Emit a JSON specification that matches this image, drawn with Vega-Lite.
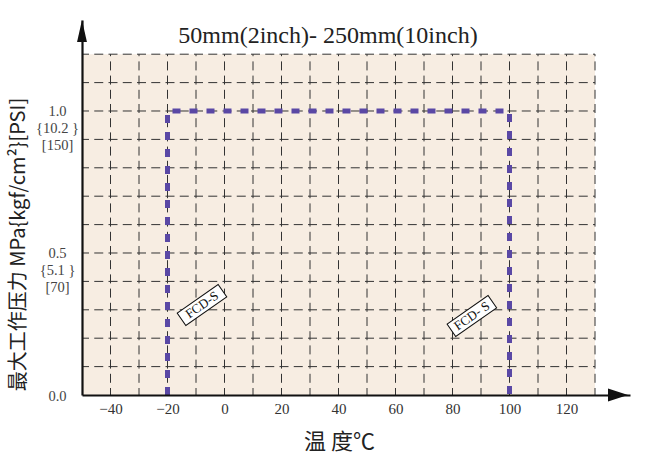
{
  "$schema": "https://vega.github.io/schema/vega-lite/v6.json",
  "width": 548,
  "height": 375,
  "autosize": {"type": "none"},
  "padding": {"left": 82, "top": 20, "right": 25, "bottom": 64},
  "background": "white",
  "config": {"view": {"stroke": null}},
  "title": {
    "text": "50mm(2inch)- 250mm(10inch)",
    "font": "Liberation Serif",
    "fontSize": 24,
    "fontWeight": "normal",
    "color": "#222",
    "anchor": "middle",
    "offset": 0,
    "dy": 28,
    "dx": -28
  },
  "datasets": {
    "vgrid": [
      {"t": -40}, {"t": -30}, {"t": -20}, {"t": -10}, {"t": 0}, {"t": 10},
      {"t": 20}, {"t": 30}, {"t": 40}, {"t": 50}, {"t": 60}, {"t": 70},
      {"t": 80}, {"t": 90}, {"t": 100}, {"t": 110}, {"t": 120}, {"t": 130}
    ],
    "hgrid": [
      {"p": 0.1}, {"p": 0.2}, {"p": 0.3}, {"p": 0.4}, {"p": 0.5}, {"p": 0.6},
      {"p": 0.7}, {"p": 0.8}, {"p": 0.9}, {"p": 1.0}, {"p": 1.1}, {"p": 1.2}
    ],
    "limit": [
      {"t": -20, "p": 0, "o": 1},
      {"t": -20, "p": 1.0, "o": 2},
      {"t": 100, "p": 1.0, "o": 3},
      {"t": 100, "p": 0, "o": 4}
    ],
    "labels": [
      {"t": -7.9, "p": 0.317, "label": "FCD-S"},
      {"t": 86.8, "p": 0.278, "label": "FCD- S"}
    ]
  },
  "layer": [
    {
      "data": {"values": [{}]},
      "mark": {"type": "rect", "color": "#F7EDE2"},
      "encoding": {
        "x": {"datum": -50, "type": "quantitative",
          "scale": {"domain": [-50, 142.28], "nice": false, "zero": false},
          "axis": {
            "values": [-40, -20, 0, 20, 40, 60, 80, 100, 120],
            "title": "温 度℃",
            "titleFont": "Noto Sans CJK SC",
            "titleFontSize": 22,
            "titleFontWeight": "normal",
            "titleColor": "#222",
            "titleX": 257,
            "titleY": 46,
            "titleBaseline": "middle",
            "titleAlign": "center",
            "labelFont": "Liberation Serif",
            "labelFontSize": 15,
            "labelColor": "#333",
            "labelPadding": 6,
            "ticks": false,
            "grid": false,
            "domainColor": "#111",
            "domainWidth": 2.2,
            "zindex": 1
          }
        },
        "x2": {"datum": 130},
        "y": {"datum": 0, "type": "quantitative",
          "scale": {"domain": [0, 1.3204], "nice": false, "zero": false},
          "axis": {
            "values": [0, 0.5, 1.0],
            "labelExpr": "datum.value == 1 ? ['1.0', '{10.2 }', '[150]'] : datum.value == 0.5 ? ['0.5', '{5.1 }', '[70]'] : '0.0'",
            "title": "最大工作压力 MPa{kgf/cm²}[PSI]",
            "titleFont": "Noto Sans CJK SC",
            "titleFontSize": 20,
            "titleFontWeight": "normal",
            "titleColor": "#222",
            "titleX": -64,
            "titleY": 224,
            "titleBaseline": "middle",
            "titleAlign": "center",
            "titleAngle": -90,
            "labelFont": "Liberation Serif",
            "labelFontSize": 14.5,
            "labelColor": "#444",
            "labelAlign": "center",
            "labelBaseline": "top",
            "labelOffset": -6,
            "labelLineHeight": 17,
            "labelPadding": 25,
            "labelOverlap": false,
            "labelBound": false,
            "ticks": false,
            "grid": false,
            "domainColor": "#111",
            "domainWidth": 2.2,
            "zindex": 1
          }
        },
        "y2": {"datum": 1.2}
      }
    },
    {
      "data": {"name": "vgrid"},
      "mark": {"type": "rule", "color": "#333333", "strokeWidth": 1, "strokeDash": [9, 5.2], "strokeDashOffset": 2},
      "encoding": {
        "x": {"field": "t", "type": "quantitative"},
        "y": {"datum": 0, "type": "quantitative"},
        "y2": {"datum": 1.2}
      }
    },
    {
      "data": {"name": "hgrid"},
      "mark": {"type": "rule", "color": "#333333", "strokeWidth": 1, "strokeDash": [9, 5.25], "strokeDashOffset": 2},
      "encoding": {
        "y": {"field": "p", "type": "quantitative"},
        "x": {"datum": -50, "type": "quantitative"},
        "x2": {"datum": 130}
      }
    },
    {
      "data": {"name": "limit"},
      "mark": {"type": "line", "color": "#5A48A5", "strokeWidth": 5, "strokeDash": [8, 9], "strokeCap": "butt"},
      "encoding": {
        "x": {"field": "t", "type": "quantitative"},
        "y": {"field": "p", "type": "quantitative"},
        "order": {"field": "o", "type": "quantitative"}
      }
    },
    {
      "data": {"name": "labels"},
      "mark": {"type": "point", "shape": "M-1,-0.3L1,-0.3L1,0.3L-1,0.3Z", "size": 2500, "angle": -35, "filled": true, "fill": "white", "stroke": "#111", "strokeWidth": 1, "opacity": 1},
      "encoding": {
        "x": {"field": "t", "type": "quantitative"},
        "y": {"field": "p", "type": "quantitative"}
      }
    },
    {
      "data": {"name": "labels"},
      "mark": {"type": "text", "font": "Liberation Serif", "fontSize": 13, "angle": -35, "color": "#111", "align": "center", "baseline": "middle"},
      "encoding": {
        "x": {"field": "t", "type": "quantitative"},
        "y": {"field": "p", "type": "quantitative"},
        "text": {"field": "label"}
      }
    },
    {
      "data": {"values": [{"t": 138.07, "p": 0}]},
      "mark": {"type": "point", "shape": "M-1,-0.65L1,0L-1,0.65Z", "size": 400, "filled": true, "color": "#111", "opacity": 1},
      "encoding": {
        "x": {"field": "t", "type": "quantitative"},
        "y": {"field": "p", "type": "quantitative"}
      }
    },
    {
      "data": {"values": [{"t": -50, "p": 1.2817}]},
      "mark": {"type": "point", "shape": "M0,-1L0.45,1L-0.45,1Z", "size": 484, "filled": true, "color": "#111", "opacity": 1},
      "encoding": {
        "x": {"field": "t", "type": "quantitative"},
        "y": {"field": "p", "type": "quantitative"}
      }
    }
  ]
}
